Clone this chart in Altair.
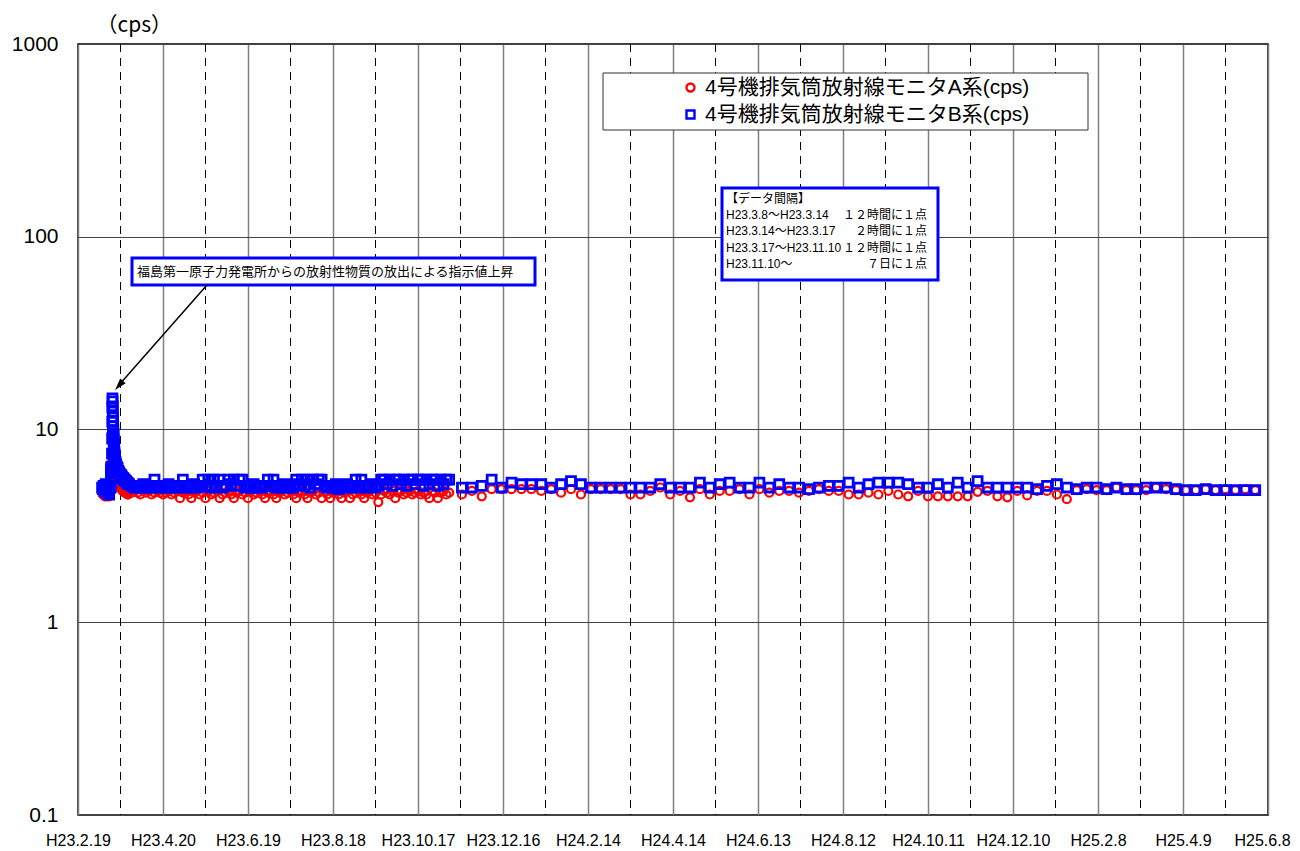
import altair as alt
import pandas as pd

# ---------------- data ----------------
series_names = ["4号機排気筒放射線モニタA系(cps)", "4号機排気筒放射線モニタB系(cps)"]

base_date = "2011-02-19"
x_tick_days = [0, 60, 120, 180, 240, 300, 360, 420, 480, 540, 600, 660, 720, 780, 840]
x_labels = ["H23.2.19", "H23.4.20", "H23.6.19", "H23.8.18", "H23.10.17", "H23.12.16",
            "H24.2.14", "H24.4.14", "H24.6.13", "H24.8.12", "H24.10.11", "H24.12.10",
            "H25.2.8", "H25.4.9", "H25.6.8"]
mid_days = [30, 90, 150, 210, 270, 330, 390, 450, 510, 570, 630, 690, 750, 810]
y_ticks = [0.1, 1, 10, 100, 1000]

# sampling segments (start, count, interval)
seg_starts = ["2011-03-08", "2011-03-14", "2011-03-17", "2011-03-27", "2011-11-17"]
seg_counts = [12, 36, 20, 114, 81]
seg_freqs = ["12h", "2h", "12h", "2D", "7D"]

# A系 (red circles)
A_s1 = [4.7, 4.6, 4.8, 4.7, 4.5, 4.8, 4.6, 4.5, 4.7, 4.8, 4.5, 4.7]
A_s2 = [4.8, 4.9, 5.0, 5.3, 5.6, 5.9, 6.0, 6.0, 5.8, 5.7, 5.9, 6.1,
        6.8, 7.5, 8.5, 9.6, 10.0, 9.6, 9.0, 8.5, 8.1, 7.8, 7.5, 7.3,
        7.1, 7.0, 6.9, 6.8, 6.7, 6.6, 6.5, 6.4, 6.3, 6.3, 6.2, 6.1]
A_s3 = [6.0, 5.8, 5.6, 5.4, 5.3, 5.2, 5.1, 5.0, 5.0, 4.9,
        4.9, 4.8, 4.8, 4.8, 4.7, 4.7, 4.7, 4.7, 4.6, 4.6]
A_s4 = [4.8, 4.7, 4.8, 4.7, 4.6, 4.8, 4.7, 4.8, 4.6, 4.7,
        4.8, 4.7, 4.6, 4.7, 4.8, 4.6, 4.7, 4.8, 4.4, 4.7,
        4.8, 4.6, 4.4, 4.7, 4.8, 4.6, 4.7, 4.4, 4.8, 4.6,
        4.7, 4.8, 4.4, 4.6, 4.7, 4.8, 4.6, 4.4, 4.7, 4.8,
        4.6, 4.7, 4.4, 4.8, 4.6, 4.7, 4.8, 4.6, 4.4, 4.7,
        4.8, 4.6, 4.4, 4.7, 4.8, 4.6, 4.7, 4.8, 4.6, 4.4,
        4.7, 4.8, 4.6, 4.4, 4.7, 4.8, 4.6, 4.7, 4.4, 4.8,
        4.6, 4.4, 4.7, 4.8, 4.6, 4.4, 4.7, 4.8, 4.4, 4.6,
        4.7, 4.8, 4.6, 4.4, 4.7, 4.8, 4.6, 4.7, 4.2, 4.6,
        4.8, 4.7, 4.6, 4.8, 4.4, 4.7, 4.8, 4.6, 4.7, 4.8,
        4.6, 4.7, 4.8, 4.6, 4.7, 4.6, 4.4, 4.8, 4.7, 4.4,
        4.7, 4.8, 4.6, 4.7]
A_s5 = [4.6, 4.8, 4.5, 4.9, 4.9, 4.9, 4.9, 4.9, 4.8, 4.9,
        4.7, 4.9, 4.6, 4.9, 4.9, 4.9, 4.9, 4.6, 4.6, 4.8,
        5.0, 4.6, 4.8, 4.45, 4.9, 4.6, 4.8, 4.8, 4.9, 4.6,
        4.9, 4.7, 4.8, 4.8, 4.7, 4.8, 4.9, 4.8, 4.8, 4.6,
        4.6, 4.7, 4.6, 4.8, 4.6, 4.5, 4.8, 4.5, 4.5, 4.5,
        4.5, 4.5, 4.75, 4.8, 4.5, 4.45, 4.8, 4.55, 4.8, 4.8,
        4.6, 4.35, 4.85, 4.9, 4.85, 4.85, 5.0, 4.85, 4.85, 4.85,
        5.0, 4.9, 4.85, 4.85, 4.85, 4.9, 4.85, 4.9, 4.85, 4.9, 4.85]

# B系 (blue squares)
B_s1 = [5.0, 4.9, 5.1, 5.0, 4.8, 5.2, 5.0, 4.7, 4.9, 5.1, 4.6, 5.0]
B_s2 = [5.0, 5.1, 5.3, 5.6, 6.0, 6.2, 6.4, 6.3, 6.1, 6.0, 6.2, 6.4,
        7.5, 9.0, 11.0, 13.0, 14.5, 14.0, 13.2, 12.4, 11.6, 11.0, 10.4, 9.9,
        9.5, 9.2, 8.9, 8.6, 8.4, 8.2, 8.0, 7.8, 7.6, 7.5, 7.3, 7.2]
B_s3 = [7.0, 6.8, 6.6, 6.4, 6.3, 6.1, 6.0, 5.9, 5.8, 5.8,
        5.7, 5.6, 5.6, 5.5, 5.5, 5.4, 5.4, 5.3, 5.3, 5.2]
B_s4 = [5.2, 5.1, 5.0, 5.1, 5.0, 5.2, 5.0, 5.1, 5.0, 5.5,
        5.1, 5.0, 5.1, 5.0, 5.2, 5.0, 5.1, 5.0, 5.1, 5.5,
        5.0, 5.1, 5.0, 5.2, 5.0, 5.1, 5.5, 5.1, 5.5, 5.0,
        5.5, 5.1, 5.5, 5.0, 5.1, 5.5, 5.2, 5.5, 5.1, 5.5,
        5.5, 5.0, 5.1, 5.0, 5.2, 5.0, 5.1, 5.0, 5.1, 5.5,
        5.1, 5.5, 5.0, 5.1, 5.0, 5.2, 5.0, 5.1, 5.0, 5.5,
        5.2, 5.5, 5.1, 5.5, 5.0, 5.5, 5.2, 5.5, 5.5, 5.1,
        5.0, 5.1, 5.0, 5.2, 4.9, 5.1, 5.0, 5.2, 5.0, 5.1,
        5.5, 5.0, 5.5, 5.1, 5.0, 5.1, 5.2, 5.0, 5.1, 5.5,
        5.5, 5.2, 5.5, 5.1, 5.5, 5.5, 5.2, 5.5, 5.1, 5.5,
        5.5, 5.2, 5.5, 5.5, 5.1, 5.5, 5.2, 5.5, 5.5, 5.1,
        5.5, 5.2, 5.5, 5.5]
B_s5 = [5.0, 5.0, 5.1, 5.5, 5.0, 5.3, 5.2, 5.2, 5.2, 5.0,
        5.2, 5.4, 5.2, 5.0, 5.0, 5.0, 5.0, 5.0, 5.0, 5.0,
        5.2, 5.0, 5.0, 5.0, 5.3, 5.0, 5.2, 5.3, 5.0, 5.0,
        5.3, 5.0, 5.2, 5.0, 5.0, 4.9, 5.0, 5.1, 5.1, 5.3,
        5.0, 5.2, 5.3, 5.3, 5.3, 5.2, 5.0, 5.0, 5.2, 5.0,
        5.3, 5.0, 5.4, 5.0, 5.0, 5.0, 5.0, 5.0, 4.9, 5.1,
        5.2, 5.0, 4.9, 5.0, 5.0, 4.9, 5.0, 4.9, 4.9, 5.0,
        5.0, 5.0, 4.9, 4.85, 4.85, 4.9, 4.85, 4.85, 4.85, 4.85, 4.85]

A_values = A_s1 + A_s2 + A_s3 + A_s4 + A_s5
B_values = B_s1 + B_s2 + B_s3 + B_s4 + B_s5

annot_text = "福島第一原子力発電所からの放射性物質の放出による指示値上昇"
interval_left = ["【データ間隔】", "H23.3.8～H23.3.14", "H23.3.14～H23.3.17",
                 "H23.3.17～H23.11.10", "H23.11.10～"]
interval_right = ["", "１２時間に１点", "２時間に１点", "１２時間に１点", "７日に１点"]

# ---------------- build tables ----------------
t0 = pd.Timestamp(base_date)
stamps = []
for s, n, f in zip(seg_starts, seg_counts, seg_freqs):
    stamps.extend(list(pd.date_range(s, periods=n, freq=f)))
days = [(t - t0).total_seconds() / 86400.0 for t in stamps]

dfA = pd.DataFrame({"day": days, "value": A_values, "series": series_names[0]})
dfB = pd.DataFrame({"day": days, "value": B_values, "series": series_names[1]})

mid_df = pd.DataFrame({"day": mid_days})
one = pd.DataFrame({"k": [0]})

# ---------------- chart ----------------
FONT = "Liberation Sans, Noto Sans CJK JP"

xscale = alt.Scale(domain=[0, 840], nice=False, zero=False)
yscale = alt.Scale(type="log", domain=[0.1, 1000], nice=False)

label_expr = "[" + ",".join("'" + s + "'" for s in x_labels) + "][round(datum.value / 60)]"

x_axis = alt.Axis(values=x_tick_days, labelExpr=label_expr, grid=True, gridColor="#808080",
                  gridWidth=1.5, domain=False, ticks=False, labelPadding=17, labelFontSize=16,
                  labelFont=FONT, labelColor="black", labelOverlap=False, labelFlush=False,
                  labelOffset={"condition": {"test": "datum.value >= 840", "value": -6}, "value": 0},
                  title=None)
y_axis = alt.Axis(values=y_ticks, format="~g", grid=True, gridColor="#444444", gridWidth=1,
                  domain=False, ticks=False, labelPadding=20, labelFontSize=21, labelFont=FONT,
                  labelColor="black", labelOverlap=False, labelFlush=False,
                  title="（cps）", titleAngle=0, titleAlign="left", titleBaseline="middle",
                  titleX=18, titleY=-19, titleFontSize=21, titleFontWeight="normal",
                  titleFont="Noto Sans CJK JP", titleColor="black")

color_enc = alt.Color("series:N", scale=alt.Scale(domain=series_names, range=["#ff0000", "#0000ff"]),
                      legend=alt.Legend(title=None))
shape_enc = alt.Shape("series:N", scale=alt.Scale(domain=series_names, range=["circle", "square"]),
                      legend=alt.Legend(title=None))

dashes = alt.Chart(mid_df).mark_rule(color="black", strokeWidth=1, strokeDash=[8, 6]).encode(
    x=alt.X("day:Q", scale=xscale, axis=x_axis)
)

legend_box = alt.Chart(one).mark_rect(fill="white", stroke="#333333", strokeWidth=1).encode(
    x=alt.value(525), x2=alt.value(1010), y=alt.value(29), y2=alt.value(86)
)

pointsA = alt.Chart(dfA).mark_point(filled=False, opacity=1, size=64, strokeWidth=2.2).encode(
    x=alt.X("day:Q", scale=xscale, axis=x_axis),
    y=alt.Y("value:Q", scale=yscale, axis=y_axis),
    color=color_enc, shape=shape_enc,
)
pointsB = alt.Chart(dfB).mark_point(filled=False, opacity=1, size=80, strokeWidth=2.8).encode(
    x=alt.X("day:Q", scale=xscale, axis=x_axis),
    y=alt.Y("value:Q", scale=yscale, axis=y_axis),
    color=color_enc, shape=shape_enc,
)

box1 = alt.Chart(one).mark_rect(fill="white", stroke="#0000ff", strokeWidth=3).encode(
    x=alt.value(54), x2=alt.value(457), y=alt.value(214), y2=alt.value(241)
)
text1 = alt.Chart(one).mark_text(text=annot_text, align="left", baseline="middle", fontSize=13,
                                 font=FONT, color="black").encode(
    x=alt.value(59), y=alt.value(228)
)

box2 = alt.Chart(one).mark_rect(fill="white", stroke="#0000ff", strokeWidth=3).encode(
    x=alt.value(644), x2=alt.value(860), y=alt.value(144), y2=alt.value(236)
)
text2l = alt.Chart(one).mark_text(text=interval_left, align="left", baseline="top", fontSize=12,
                                  lineHeight=16.2, font=FONT, color="black").encode(
    x=alt.value(648), y=alt.value(150)
)
text2r = alt.Chart(one).mark_text(text=interval_right, align="right", baseline="top", fontSize=12,
                                  lineHeight=16.2, font=FONT, color="black").encode(
    x=alt.value(849), y=alt.value(150)
)

arrow_line = alt.Chart(one).mark_rule(color="black", strokeWidth=1.5).encode(
    x=alt.value(129), y=alt.value(241), x2=alt.value(41), y2=alt.value(341)
)
arrow_head = alt.Chart(one).mark_point(shape="M0,-1L0.6,1L-0.6,1Z", filled=True, color="black",
                                       opacity=1, size=144, angle=221).encode(
    x=alt.value(41), y=alt.value(341.5)
)

chart = alt.layer(
    dashes, legend_box, pointsA, pointsB, box1, text1, box2, text2l, text2r, arrow_line, arrow_head
).properties(
    width=1190, height=771,
    padding={"left": 70, "top": 36, "right": 24, "bottom": 34},
    autosize=alt.AutoSizeParams(type="none"),
    background="white",
).configure_view(
    stroke="black", strokeWidth=1.5
).configure_legend(
    orient="none", legendX=602, legendY=33, padding=0, labelFontSize=21, labelFont=FONT,
    labelColor="black", symbolSize=64, symbolStrokeWidth=2.4, labelOffset=4, rowPadding=5,
    labelLimit=600, symbolOpacity=1
)

chart.save("out.html", embed_options={"renderer": "svg", "actions": False})
